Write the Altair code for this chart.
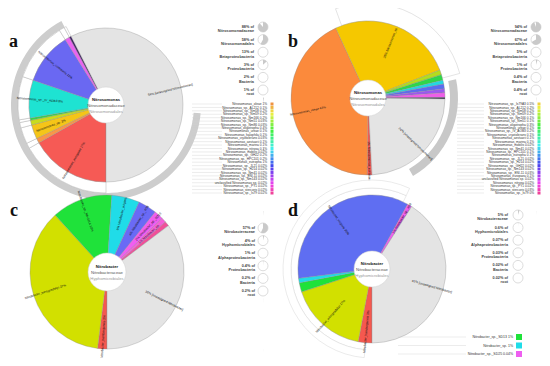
import math
import colorsys
import altair as alt
import pandas as pd

FONT = "Liberation Sans"
TAU = 2 * math.pi

# ---------------- data ----------------
panel_letters = ["a", "b", "c", "d"]

a_names = ["Nitrosomonas_europaea", "Nitrosomonas_oleae", "Nitrosomonas_sp.", "Nitrosomonas_oligotropha",
           "Nitrosomonas_ureae", "Nitrosomonas_sp._IV_AOB3", "Nitrosomonas_communis", "Nitrosomonas_sp._AL212",
           "Nitrosomonas_eutropha", "[unassigned Nitrosomonas]"]
a_pcts = [17, 1, 3, 1, 0.5, 8, 11, 1, 0.4, 58]
a_labelled = [1, 0, 1, 0, 0, 1, 1, 0, 0, 1]

b_names = ["Nitrosomonas_europaea", "Nitrosomonas_oleae", "Nitrosomonas_sp.", "Nitrosomonas_sp._Nm58",
           "Nitrosomonas_oligotropha", "Nitrosomonas_ureae", "Nitrosomonas_sp._IV_AOB3", "Nitrosomonas_marina",
           "Nitrosomonas_eutropha", "Nitrosomonas_sp._PY1", "[unassigned Nitrosomonas]"]
b_pcts = [1, 43, 26, 1, 1.2, 0.8, 1, 0.8, 1, 0.3, 24]
b_labelled = [1, 1, 1, 0, 0, 0, 0, 0, 0, 0, 1]

c_names = ["Nitrobacter_hamburgensis", "Nitrobacter_winogradskyi", "Nitrobacter_sp._Nb-311A", "Nitrobacter_vulgaris",
           "Nitrobacter_sp._4D9", "Nitrobacter_sp._SD13", "Nitrobacter_sp.", "Nitrobacter_sp._SD25",
           "[unassigned Nitrobacter]"]
c_pcts = [2, 37, 13, 6, 4, 2, 1, 1, 36]
c_labelled = [1, 1, 1, 1, 1, 1, 1, 0, 1]

d_names = ["Nitrobacter_hamburgensis", "Nitrobacter_winogradskyi", "Nitrobacter_sp._SD13", "Nitrobacter_sp.",
           "Nitrobacter_vulgaris", "Nitrobacter_sp._4D9", "[unassigned Nitrobacter]"]
d_pcts = [3, 17, 2, 1, 35, 1, 41]
d_labelled = [1, 1, 0, 0, 1, 1, 1]

a_center = ["Nitrosomonas", "Nitrosomonadaceae", "Nitrosomonadales"]
b_center = ["Nitrosomonas", "Nitrosomonadaceae", "Nitrosomonadales"]
c_center = ["Nitrobacter", "Nitrobacteraceae", "Hyphomicrobiales"]
d_center = ["Nitrobacter", "Nitrobacteraceae", "Hyphomicrobiales"]

beta_taxa = ["Nitrosomonadaceae", "Nitrosomonadales", "Betaproteobacteria", "Proteobacteria", "Bacteria", "root"]
alpha_taxa = ["Nitrobacteraceae", "Hyphomicrobiales", "Alphaproteobacteria", "Proteobacteria", "Bacteria", "root"]
a_legend_pct = [88, 58, 13, 3, 2, 1]
b_legend_pct = [94, 67, 5, 1, 0.4, 0.4]
c_legend_pct = [57, 4, 1, 0.4, 0.2, 0.2]
d_legend_pct = [5, 0.6, 0.07, 0.03, 0.02, 0.02]

a_list = ["Nitrosomonas_oleae 1%", "Nitrosomonas_sp._AL212 0.1%", "Nitrosomonas_sp._Nm58 0.2%",
          "Nitrosomonas_sp._Nm59 0.2%", "Nitrosomonas_sp._Nm166 0.2%", "Nitrosomonas_sp._Nm51 0.03%",
          "Nitrosomonas_sp._Nm86 0.03%", "Nitrosomonas_oligotropha 0.4%", "Nitrosomonas_ureae 0.1%",
          "Nitrosomonas_halophila 0.1%", "Nitrosomonas_cryotolerans 0.03%", "Nitrosomonas_aestuarii 0.1%",
          "Nitrosomonas_marina 0.1%", "Nitrosomonas_nitrosa 0.1%", "Nitrosomonas_mobilis 0.02%",
          "Nitrosomonas_sp._GH22 0.2%", "Nitrosomonas_sp._HPC101 0.2%", "Nitrosomonas_eutropha 1%",
          "Nitrosomonas_sp._JL21 0.02%", "Nitrosomonas_sp._H214 0.02%", "Nitrosomonas_sp._Nm41 0.02%",
          "Nitrosomonas_sp._ENI-11 0.02%", "Nitrosomonas_sp._Nm143 0.02%", "unclassified Nitrosomonas sp. 0.02%",
          "Nitrosomonas_sp._PY1 0.02%", "Nitrosomonas_stercoris 0.02%", "Nitrosomonas_sp._Is79 0.02%"]
b_list = ["Nitrosomonas_sp._Is79A3 0.5%", "Nitrosomonas_sp._AL212 0.2%", "Nitrosomonas_sp._Nm58 0.2%",
          "Nitrosomonas_sp._Nm59 0.2%", "Nitrosomonas_sp._Nm166 0.1%", "Nitrosomonas_sp._Nm51 0.1%",
          "Nitrosomonas_oligotropha 0.3%", "Nitrosomonas_ureae 0.1%", "Nitrosomonas_sp._IV_AOB3 0.2%",
          "Nitrosomonas_cryotolerans 0.1%", "Nitrosomonas_aestuarii 0.1%", "Nitrosomonas_marina 0.1%",
          "Nitrosomonas_mobilis 0.02%", "Nitrosomonas_sp._Nm41 0.02%", "Nitrosomonas_sp._HPC101 0.1%",
          "Nitrosomonas_eutropha 0.1%", "Nitrosomonas_sp._JL21 0.02%", "Nitrosomonas_sp._H214 0.02%",
          "Nitrosomonas_sp._GH22 0.02%", "Nitrosomonas_sp._Nm143 0.02%", "Nitrosomonas_sp._ENI-11 0.03%",
          "Nitrosomonas_europaea 0.1%", "unclassified Nitrosomonas sp. 0.02%", "Nitrosomonas_nitrosa 0.02%",
          "Nitrosomonas_sp._PY1 0.02%", "Nitrosomonas_stercoris 0.03%", "Nitrosomonas_sp._Is79 0%"]
d_list = ["Nitrobacter_sp._SD13 1%", "Nitrobacter_sp. 1%", "Nitrobacter_sp._SD25 0.04%"]

# ---------------- styles ----------------
a_colors = ["#f65a55", "#f99648", "#f5c518", "#c8dc1e", "#34d44a", "#1ee3d2", "#6a68f2", "#e964f0", "#3c1f62", "#e4e4e4"]
b_colors = ["#f45a55", "#fb8a3c", "#f5c800", "#b4dc1e", "#2fd64a", "#22d8e2", "#5a6cf0", "#9b58f0", "#ee5ee8", "#2a1f40", "#e4e4e4"]
c_colors = ["#f5584f", "#d2e000", "#1fe23a", "#20dce8", "#6a6af5", "#f05ef0", "#f55fd8", "#f0509a", "#e4e4e4"]
d_colors = ["#f5584f", "#d2e000", "#1fe23a", "#20dce8", "#5f6ef2", "#ee5ef0", "#e4e4e4"]
d_list_colors = ["#1fe23a", "#20dce8", "#ee5ef0"]

LABEL_FS = 3.2


def hue_colors(n, h0, h1):
    out = []
    for k in range(n):
        h = (h0 + (h1 - h0) * k / max(n - 1, 1)) / 360.0
        r, g, b = colorsys.hls_to_rgb(h % 1.0, 0.6, 0.85)
        out.append("#%02x%02x%02x" % (int(r * 255), int(g * 255), int(b * 255)))
    return out


layers = []


def pie(names, pcts, labelled, colors, start_deg, cx, cy, R, hole, center, ring=None):
    df = pd.DataFrame({"name": names, "pct": pcts, "lab": labelled})
    df["t1"] = df["pct"].cumsum()
    df["t0"] = df["t1"] - df["pct"]
    df["mid"] = (df["t0"] + df["t1"]) / 2
    total = float(df["pct"].sum())
    degs = [(start_deg + m / total * 360) % 360 for m in df["mid"]]
    df["side"] = ["R" if d < 180 else "L" for d in degs]
    df["ang"] = [((d - 90) if d < 180 else (d - 270)) % 360 for d in degs]
    df["label"] = [(f"{p:g}% {n}" if s == "R" else f"{n} {p:g}%")
                   for n, p, s in zip(df["name"], df["pct"], df["side"])]
    a0 = math.radians(start_deg)
    sc = alt.Scale(domain=[0, total], range=[a0, a0 + TAU])
    pos = dict(x=alt.value(cx), y=alt.value(cy))
    th = alt.Theta("t0:Q", scale=sc, stack=False)
    base = alt.Chart(df)
    if ring is not None:
        layers.append(base.transform_filter(f"datum.name != '{names[-1]}'").mark_arc(
            innerRadius=R, outerRadius=R + ring, fill="white", stroke="#b3b3b3", strokeWidth=0.5
        ).encode(theta=th, theta2=alt.Theta2("t1:Q"), **pos))
    layers.append(base.mark_arc(outerRadius=R, stroke="#8a8a8a", strokeWidth=0.35).encode(
        theta=th, theta2=alt.Theta2("t1:Q"),
        color=alt.Color("name:N", scale=alt.Scale(domain=names, range=colors), legend=None), **pos))
    for side, align in (("R", "left"), ("L", "right")):
        layers.append(base.transform_filter(f"datum.lab == 1 && datum.side == '{side}'").mark_text(
            radius=0.56 * R, align=align, baseline="middle", fontSize=LABEL_FS, font=FONT, color="#111"
        ).encode(theta=alt.Theta("mid:Q", scale=sc, stack=False),
                 angle=alt.Angle("ang:Q", scale=None), text="label:N", **pos))
    one = pd.DataFrame({"k": [0]})
    layers.append(alt.Chart(one).mark_arc(outerRadius=hole, theta=0, theta2=TAU, fill="white",
                                          stroke="#cfcfcf", strokeWidth=0.5).encode(**pos))
    styles = [("bold", "#111", -5), ("normal", "#555", 1), ("normal", "#9a9a9a", 6.5)]
    for txt, (w, col, dy) in zip(center, styles):
        layers.append(alt.Chart(pd.DataFrame({"t": [txt]})).mark_text(
            fontSize=4.2, fontWeight=w, color=col, font=FONT, dy=dy, baseline="middle"
        ).encode(text="t:N", **pos))


def decor(cx, cy, r0, r1, d0, d1, fill, stroke=None):
    kw = dict(innerRadius=r0, outerRadius=r1, theta=math.radians(d0), theta2=math.radians(d1), fill=fill)
    if stroke:
        kw.update(stroke=stroke, strokeWidth=0.5)
    layers.append(alt.Chart(pd.DataFrame({"k": [0]})).mark_arc(**kw).encode(x=alt.value(cx), y=alt.value(cy)))


def legend(pcts, taxa, tx, cx, y0, y1):
    df = pd.DataFrame({"row": list(range(len(pcts))), "pct": pcts, "z": 0,
                       "txt": [f"{p:g}% of\n{t}" for p, t in zip(pcts, taxa)]})
    ysc = alt.Y("row:Q", scale=alt.Scale(domain=[0, len(pcts) - 1], range=[y0, y1]), axis=None)
    layers.append(alt.Chart(df).mark_circle(size=100, color="white", stroke="#d3d3d3", strokeWidth=0.8,
                                            opacity=1).encode(x=alt.value(cx), y=ysc))
    layers.append(alt.Chart(df).mark_arc(outerRadius=5, color="#c9c9c9").encode(
        x=alt.value(cx), y=ysc,
        theta=alt.Theta("z:Q", scale=alt.Scale(domain=[0, 100], range=[0, TAU]), stack=False),
        theta2=alt.Theta2("pct:Q")))
    layers.append(alt.Chart(df).mark_text(align="right", baseline="middle", fontSize=3.8, lineBreak="\n",
                                          lineHeight=4.4, font=FONT, fontWeight="bold", color="#444").encode(
        x=alt.value(tx), y=ysc, text="txt:N"))


def species_list(items, colors, tx, sx, y0, y1, rx0, rx1, fs, sq):
    n = len(items)
    df = pd.DataFrame({"i": list(range(n)), "txt": items})
    ysc = alt.Y("i:Q", scale=alt.Scale(domain=[0, n - 1], range=[y0, y1]), axis=None)
    layers.append(alt.Chart(df).mark_rule(color="#cfcfcf", strokeWidth=0.4).encode(
        x=alt.value(rx0), x2=alt.value(rx1), y=ysc))
    layers.append(alt.Chart(df).mark_text(align="right", baseline="middle", fontSize=fs, font=FONT,
                                          color="#333").encode(x=alt.value(tx), y=ysc, text="txt:N"))
    layers.append(alt.Chart(df).mark_square(size=sq, opacity=1).encode(
        x=alt.value(sx), y=ysc,
        color=alt.Color("i:O", scale=alt.Scale(domain=list(range(n)), range=colors), legend=None)))


# ---------------- panel a ----------------
decor(98, 97, 88, 95, 95, 332, "#cdcdcd")
pie(a_names, a_pcts, a_labelled, a_colors, 180, 98, 97, 77, 18, a_center, ring=11)
legend(a_legend_pct, beta_taxa, 246, 255, 19, 82)
species_list(a_list, hue_colors(len(a_list), 28, 330), 259, 264, 96, 185, 184, 214, 3.2, 9)

# ---------------- panel b ----------------
decor(360, 90, 77, 95, 340, 435, "white", "#c8c8c8")
decor(360, 90, 82, 90, 78, 150, "#c8c8c8")
pie(b_names, b_pcts, b_labelled, b_colors, 177, 360, 90, 77, 18, b_center)
legend(b_legend_pct, beta_taxa, 519, 528, 19, 82)
species_list(b_list, hue_colors(len(b_list), 50, 330), 526, 531, 96, 185, 449, 476, 3.2, 9)

# ---------------- panel c ----------------
pie(c_names, c_pcts, c_labelled, c_colors, 180, 99, 264, 77, 19, c_center)
legend(c_legend_pct, alpha_taxa, 247, 255, 220, 283)

# ---------------- panel d ----------------
decor(364, 261, 74, 81, 185, 385, "white", "#d6d6d6")
decor(364, 261, 81, 89, 185, 385, "white", "#d6d6d6")
pie(d_names, d_pcts, d_labelled, d_colors, 180, 364, 261, 74, 18, d_center)
legend(d_legend_pct, alpha_taxa, 500, 510, 207, 270)
species_list(d_list, d_list_colors, 505, 511, 329, 346, 390, 458, 3.5, 36)

# ---------------- panel letters ----------------
for letter, (lx, ly) in zip(panel_letters, [(1, 39), (280, 39), (2, 208), (280, 208)]):
    layers.append(alt.Chart(pd.DataFrame({"t": [letter]})).mark_text(
        fontSize=18, fontWeight="bold", font="Liberation Serif", align="left", baseline="alphabetic", color="#111"
    ).encode(x=alt.value(lx), y=alt.value(ly), text="t:N"))

chart = alt.layer(*layers).resolve_scale(
    theta="independent", color="independent", x="independent", y="independent"
).properties(
    width=534, height=350, padding=0, background="white",
    autosize=alt.AutoSizeParams(type="none")
).configure_view(stroke=None)

chart.save("out.html", embed_options={"renderer": "svg", "actions": False})
